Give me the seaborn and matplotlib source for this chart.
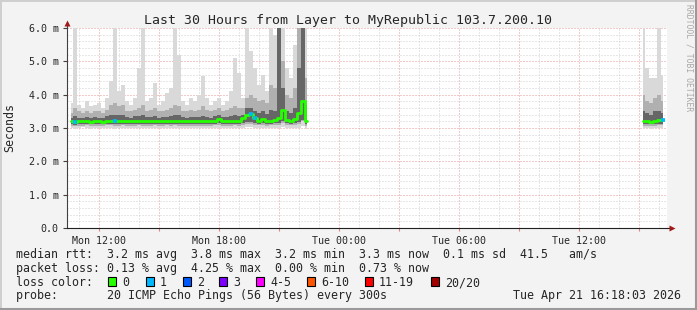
import numpy as np
import matplotlib
matplotlib.use("Agg")
import matplotlib.pyplot as plt
from matplotlib.lines import Line2D
from matplotlib.patches import Rectangle
import seaborn as sns

# ---------------- data (hours since Mon 00:00, 12-min buckets) ----------------
seg1_start, seg2_start, step = 10.6, 39.2, 0.2

hi1 = [3.75, 6.5, 3.7, 3.6, 3.8, 3.65, 3.7, 3.75, 3.6, 3.9,
       4.4, 6.5, 4.1, 4.3, 3.8, 3.7, 3.9, 4.8, 6.5, 3.8,
       3.9, 4.35, 3.7, 3.8, 4.05, 4.2, 6.5, 5.2, 3.8, 3.7,
       3.9, 3.8, 4.0, 4.55, 3.9, 3.7, 3.8, 3.9, 3.7, 3.8,
       4.1, 5.1, 4.65, 3.9, 6.5, 5.3, 4.8, 4.3, 4.6, 4.1,
       6.5, 5.8, 6.5, 6.5, 4.8, 4.5, 5.5, 6.5, 6.5, 6.5]
q90_1 = [3.45, 3.6, 3.5, 3.45, 3.5, 3.45, 3.5, 3.5, 3.45, 3.55,
         3.7, 3.75, 3.65, 3.7, 3.5, 3.5, 3.55, 3.6, 3.7, 3.5,
         3.55, 3.6, 3.5, 3.5, 3.55, 3.6, 3.7, 3.65, 3.5, 3.5,
         3.55, 3.5, 3.55, 3.65, 3.55, 3.5, 3.55, 3.6, 3.5, 3.55,
         3.6, 3.65, 3.6, 3.6, 3.9, 4.0, 3.9, 3.8, 3.85, 3.75,
         4.3, 4.2, 6.5, 5.0, 4.0, 3.9, 4.2, 6.5, 6.5, 4.5]
q75_1 = [3.3, 3.35, 3.3, 3.3, 3.32, 3.3, 3.32, 3.3, 3.3, 3.35,
         3.4, 3.4, 3.38, 3.4, 3.33, 3.3, 3.35, 3.35, 3.38, 3.32,
         3.33, 3.35, 3.3, 3.32, 3.34, 3.35, 3.4, 3.38, 3.32, 3.3,
         3.33, 3.32, 3.34, 3.36, 3.33, 3.3, 3.35, 3.4, 3.32, 3.33,
         3.35, 3.38, 3.36, 3.38, 3.6, 3.6, 3.5, 3.45, 3.5, 3.42,
         3.55, 3.5, 6.5, 4.2, 3.5, 3.45, 3.6, 4.8, 6.5, 3.7]
med1 = [3.20, 3.18, 3.20, 3.20, 3.21, 3.19, 3.20, 3.21, 3.19, 3.21,
        3.22, 3.20, 3.21, 3.22, 3.21, 3.20, 3.21, 3.22, 3.21, 3.20,
        3.21, 3.22, 3.20, 3.21, 3.22, 3.21, 3.22, 3.21, 3.20, 3.20,
        3.21, 3.20, 3.21, 3.21, 3.20, 3.20, 3.22, 3.28, 3.21, 3.20,
        3.21, 3.22, 3.21, 3.30, 3.40, 3.42, 3.30, 3.22, 3.28, 3.21,
        3.22, 3.25, 3.30, 3.55, 3.25, 3.22, 3.28, 3.45, 3.80, 3.20]
q25_1 = [3.12, 3.10, 3.12, 3.12, 3.13, 3.11, 3.12, 3.12, 3.11, 3.13,
         3.13, 3.12, 3.12, 3.13, 3.12, 3.12, 3.12, 3.13, 3.12, 3.12,
         3.12, 3.13, 3.12, 3.12, 3.13, 3.12, 3.13, 3.12, 3.12, 3.12,
         3.12, 3.12, 3.12, 3.12, 3.12, 3.12, 3.13, 3.14, 3.12, 3.12,
         3.12, 3.13, 3.12, 3.14, 3.18, 3.18, 3.15, 3.13, 3.14, 3.12,
         3.13, 3.14, 3.15, 3.20, 3.14, 3.13, 3.14, 3.18, 3.25, 3.12]
lo1 = [3.00, 2.98, 3.00, 3.02, 3.00, 2.98, 3.00, 3.01, 2.99, 3.00,
       3.00, 2.98, 3.00, 3.01, 3.00, 3.00, 2.99, 3.00, 2.99, 3.00,
       3.00, 3.01, 3.00, 2.99, 3.00, 3.00, 3.00, 2.99, 3.00, 3.00,
       3.00, 2.99, 3.00, 3.00, 3.00, 3.00, 3.00, 3.01, 3.00, 3.00,
       3.00, 3.00, 3.00, 3.01, 3.02, 3.02, 3.00, 3.00, 3.00, 2.99,
       3.00, 3.00, 3.00, 3.02, 3.00, 3.00, 3.00, 3.01, 3.05, 2.98]
loss1 = [0, 1, 0, 0, 0, 0, 0, 0, 0, 0,
         0, 1, 0, 0, 0, 0, 0, 0, 0, 0,
         0, 0, 0, 0, 0, 0, 0, 0, 0, 0,
         0, 0, 0, 0, 0, 0, 0, 0, 0, 0,
         0, 0, 0, 0, 0, 1, 1, 0, 0, 0,
         0, 0, 0, 0, 0, 0, 0, 0, 0, 0]

hi2 = [6.5, 4.8, 4.5, 4.5, 6.5, 4.6]
q90_2 = [4.0, 3.8, 3.75, 3.9, 4.0, 3.8]
q75_2 = [3.5, 3.45, 3.4, 3.5, 3.5, 3.45]
med2 = [3.22, 3.20, 3.18, 3.22, 3.25, 3.24]
q25_2 = [3.12, 3.12, 3.11, 3.12, 3.13, 3.13]
lo2 = [2.98, 3.00, 2.98, 3.00, 3.00, 3.00]
loss2 = [0, 0, 0, 0, 0, 1]

loss_labels = ["0", "1", "2", "3", "4-5", "6-10", "11-19", "20/20"]
loss_colors = ["#26ff00", "#00b8ff", "#0059ff", "#7e00ff", "#ff00ff",
               "#ff5500", "#ff0000", "#a10000"]

y_ticks = [0, 1, 2, 3, 4, 5, 6]
y_labels = ["0.0", "1.0 m", "2.0 m", "3.0 m", "4.0 m", "5.0 m", "6.0 m"]
x_major = [12, 15, 18, 21, 24, 27, 30, 33, 36, 39]
x_labels = ["Mon 12:00", "", "Mon 18:00", "", "Tue 00:00", "",
            "Tue 06:00", "", "Tue 12:00", ""]

title = "Last 30 Hours from Layer to MyRepublic 103.7.200.10"
line_rtt = "median rtt:  3.2 ms avg  3.8 ms max  3.2 ms min  3.3 ms now  0.1 ms sd  41.5   am/s"
line_loss = "packet loss: 0.13 % avg  4.25 % max  0.00 % min  0.73 % now"
line_probe = "probe:       20 ICMP Echo Pings (56 Bytes) every 300s"
stamp = "Tue Apr 21 16:18:03 2026"

# ---------------- style ----------------
sns.set_style("white")
plt.rcParams["font.family"] = ["DejaVu Sans Mono", "DejaVu Sans"]

W, H = 697, 310
fig = plt.figure(figsize=(W / 100, H / 100), dpi=100)
fig.patch.set_facecolor("#f3f3f3")

def fx(px):
    return px / W

def fy(py):
    return 1 - py / H

ax = fig.add_axes([fx(67), fy(228), 600 / W, 200 / H])
ax.set_facecolor("white")
ax.set_xlim(10.4, 40.4)
ax.set_ylim(0, 6)

# grid
dot = (0, (1, 2))
for h in np.arange(11, 41, 1):
    if h not in x_major:
        ax.axvline(h, color="#d0d0d0", lw=0.72, ls=dot, zorder=0)
for v in np.arange(0.2, 6.0, 0.2):
    if abs(v - round(v)) > 1e-6:
        ax.axhline(v, color="#d0d0d0", lw=0.72, ls=dot, zorder=0)
for h in x_major:
    ax.axvline(h, color="#e89696", lw=0.72, ls=dot, zorder=0.5)
for v in y_ticks[1:]:
    ax.axhline(v, color="#e89696", lw=0.72, ls=dot, zorder=0.5)

# smoke
def draw_segment(start, hi, q90, q75, med, q25, lo, loss):
    n = len(med)
    t = start + step * np.arange(n)
    hi, q90, q75 = np.array(hi), np.array(q90), np.array(q75)
    med, q25, lo, loss = np.array(med), np.array(q25), np.array(lo), np.array(loss)
    ax.fill_between(t, lo, hi, step="mid", color="#d9d9d9", lw=0, zorder=2)
    ax.fill_between(t, q25 - 0.05, q90, step="mid", color="#b0b0b0", lw=0, zorder=3)
    ax.fill_between(t, q25, q75, step="mid", color="#666666", lw=0, zorder=4)
    sns.lineplot(x=t, y=med, ax=ax, drawstyle="steps-mid", color=loss_colors[0],
                 lw=2.0, zorder=6, estimator=None, legend=False)
    for lv in sorted(set(loss.tolist())):
        if lv == 0:
            continue
        m = loss == lv
        ax.hlines(med[m], t[m] - step / 2, t[m] + step / 2,
                  color=loss_colors[lv], lw=2.6, zorder=7)

draw_segment(seg1_start, hi1, q90_1, q75_1, med1, q25_1, lo1, loss1)
draw_segment(seg2_start, hi2, q90_2, q75_2, med2, q25_2, lo2, loss2)

# axes, ticks
for s in ["top", "right"]:
    ax.spines[s].set_visible(False)
ax.spines["left"].set_color("#404040")
ax.spines["bottom"].set_color("#202020")
ax.spines["left"].set_linewidth(0.8)
ax.spines["bottom"].set_linewidth(0.8)
ax.set_yticks(y_ticks)
ax.set_yticklabels(y_labels, fontsize=7.2)
ax.set_xticks(x_major)
ax.set_xticklabels(x_labels, fontsize=7.2)
ax.tick_params(axis="y", length=3, width=0.8, color="#404040", pad=3, left=True)
ax.tick_params(axis="x", length=2.5, width=0.8, color="#e08080", pad=3, bottom=True)

# axis arrows
ax.plot([0, 0], [1, 1.02], color="#404040", lw=0.8, transform=ax.transAxes,
        clip_on=False, zorder=8)
ax.plot([0], [1.025], marker="^", ms=4.5, color="#a01818", mec="none",
        transform=ax.transAxes, clip_on=False, zorder=9)
ax.plot([1, 1.006], [0, 0], color="#202020", lw=0.8, transform=ax.transAxes,
        clip_on=False, zorder=8)
ax.plot([1.008], [0], marker=">", ms=4.5, color="#a01818", mec="none",
        transform=ax.transAxes, clip_on=False, zorder=9)

# texts
fig.text(fx(10), fy(127), "Seconds", rotation=90, ha="center", va="center", fontsize=8.4)
fig.text(fx(348), fy(24), title, ha="center", va="baseline", fontsize=9.55)
fig.text(fx(689), fy(4), "RRDTOOL / TOBI OETIKER", rotation=270, ha="center",
         va="top", fontsize=5.8, color="#a8a8a8")
fig.text(fx(16), fy(258), line_rtt, ha="left", va="baseline", fontsize=8.41)
fig.text(fx(16), fy(272), line_loss, ha="left", va="baseline", fontsize=8.41)
fig.text(fx(16), fy(286), "loss color:", ha="left", va="baseline", fontsize=8.41)
fig.text(fx(16), fy(299.5), line_probe, ha="left", va="baseline", fontsize=8.41)
fig.text(fx(681), fy(299.5), stamp, ha="right", va="baseline", fontsize=8.41)

box_x = [108, 146, 183, 219, 256, 307, 365, 431]
for bx, lab, col in zip(box_x, loss_labels, loss_colors):
    fig.add_artist(Rectangle((fx(bx), fy(286)), 8 / W, 9 / H, facecolor=col,
                             edgecolor="black", lw=0.8, transform=fig.transFigure))
    fig.text(fx(bx + 14), fy(286), lab, ha="left", va="baseline", fontsize=8.41)

# frame shading
fig.add_artist(Line2D([0, 1], [fy(0.5), fy(0.5)], color="#cfcfcf", lw=1.4, transform=fig.transFigure))
fig.add_artist(Line2D([fx(0.5), fx(0.5)], [0, 1], color="#cfcfcf", lw=1.4, transform=fig.transFigure))
fig.add_artist(Line2D([0, 1], [fy(H - 1), fy(H - 1)], color="#9a9a9a", lw=1.5, transform=fig.transFigure))
fig.add_artist(Line2D([fx(W - 1), fx(W - 1)], [0, 1], color="#9a9a9a", lw=1.5, transform=fig.transFigure))

fig.savefig("out.png", dpi=100, facecolor=fig.get_facecolor())
